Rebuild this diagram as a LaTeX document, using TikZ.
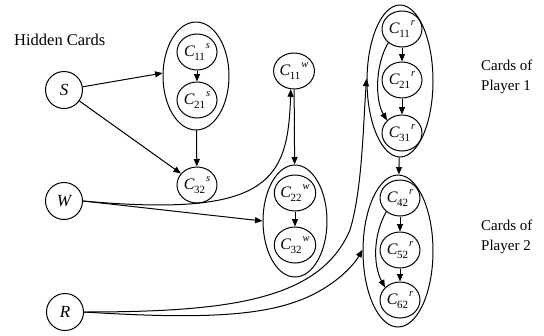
\documentclass[tikz,border=0pt]{standalone}
\usepackage{fontspec}
\setmainfont{Liberation Serif}
\usetikzlibrary{shapes.geometric,arrows.meta}
\newcommand{\cardlbl}[2]{\textit{C}\kern-0.5pt\raisebox{-0.5ex}{\fontsize{11}{11}\selectfont #1}\kern1pt\raisebox{1.15ex}{\fontsize{10.5}{10.5}\selectfont\textit{#2}}}
\begin{document}
\begin{tikzpicture}[x=1pt,y=-1pt,
  cardnode/.style={draw,ellipse,minimum width=40pt,minimum height=36pt,inner sep=0pt,line width=1pt,font=\fontsize{16}{16}\selectfont},
  varnode/.style={draw,circle,minimum size=37pt,inner sep=0pt,line width=1pt,font=\fontsize{17}{17}\selectfont\itshape},
  groupnode/.style={draw,ellipse,inner sep=0pt,line width=1pt},
  arr/.style={-{Triangle[length=7.5pt,width=6pt]},line width=1pt},
  lbl/.style={font=\fontsize{15}{20}\selectfont,align=left,inner sep=0pt}]
\useasboundingbox (0,0) rectangle (544,335);
% variable nodes
\node[varnode] (S) at (64,90) {S};
\node[varnode] (W) at (64,201) {W};
\node[varnode] (R) at (65,312) {R};
% group ellipses
\node[groupnode,minimum width=66pt,minimum height=108pt] (ES) at (196,76) {};
\node[groupnode,minimum width=64pt,minimum height=112pt] (EW) at (295,221) {};
\node[groupnode,minimum width=66pt,minimum height=152pt] (E1) at (400,81) {};
\node[groupnode,minimum width=70pt,minimum height=152pt] (E2) at (398,251) {};
% card nodes
\node[cardnode] (C11s) at (197,52) {\cardlbl{11}{s}};
\node[cardnode] (C21s) at (197,100) {\cardlbl{21}{s}};
\node[cardnode] (C32s) at (197,185) {\cardlbl{32}{s}};
\node[cardnode] (C11w) at (294,71) {\cardlbl{11}{w}};
\node[cardnode] (C22w) at (295,193) {\cardlbl{22}{w}};
\node[cardnode] (C32w) at (295,245) {\cardlbl{32}{w}};
\node[cardnode] (C11r) at (402,29) {\cardlbl{11}{r}};
\node[cardnode] (C21r) at (402,80) {\cardlbl{21}{r}};
\node[cardnode] (C31r) at (402,133) {\cardlbl{31}{r}};
\node[cardnode] (C42r) at (400,198) {\cardlbl{42}{r}};
\node[cardnode] (C52r) at (400,250) {\cardlbl{52}{r}};
\node[cardnode] (C62r) at (400,300) {\cardlbl{62}{r}};
% labels
\node[lbl,anchor=west,font=\fontsize{16.5}{20}\selectfont] (HC) at (14,40) {Hidden Cards};
\node[lbl,anchor=west] (P1) at (481,77) {Cards of\\Player 1};
\node[lbl,anchor=west] (P2) at (481,237) {Cards of\\Player 2};
% edges
\draw[arr] (S) -- (ES.175);
\draw[arr] (S) -- (C32s);
\draw[arr] (C11s) -- (C21s);
\draw[arr] (ES) -- (C32s);
\draw[arr] (W.east) .. controls (270,218) and (288,180) .. (C11w.-100);
\draw[arr] (W.east) -- (EW.west);
\draw[arr] (C11w) -- (EW);
\draw[arr] (C22w) -- (C32w);
\draw[arr] (C11r) -- (C21r);
\draw[arr] (C21r) -- (C31r);
\draw[arr] (C11r.225) .. controls (375,65) and (375,100) .. (C31r.140);
\draw[arr] (E1) -- (E2);
\draw[arr] (C42r) -- (C52r);
\draw[arr] (C52r) -- (C62r);
\draw[arr] (C42r.225) .. controls (373,235) and (373,265) .. (C62r.140);
\draw[arr] (R.east) .. controls (230,312) and (320,300) .. (350,230) .. controls (362,190) and (363,130) .. (E1.176);
\draw[arr] (R.east) .. controls (180,318) and (250,318) .. (295,302) .. controls (330,290) and (352,268) .. (E2.178);
\end{tikzpicture}
\end{document}
